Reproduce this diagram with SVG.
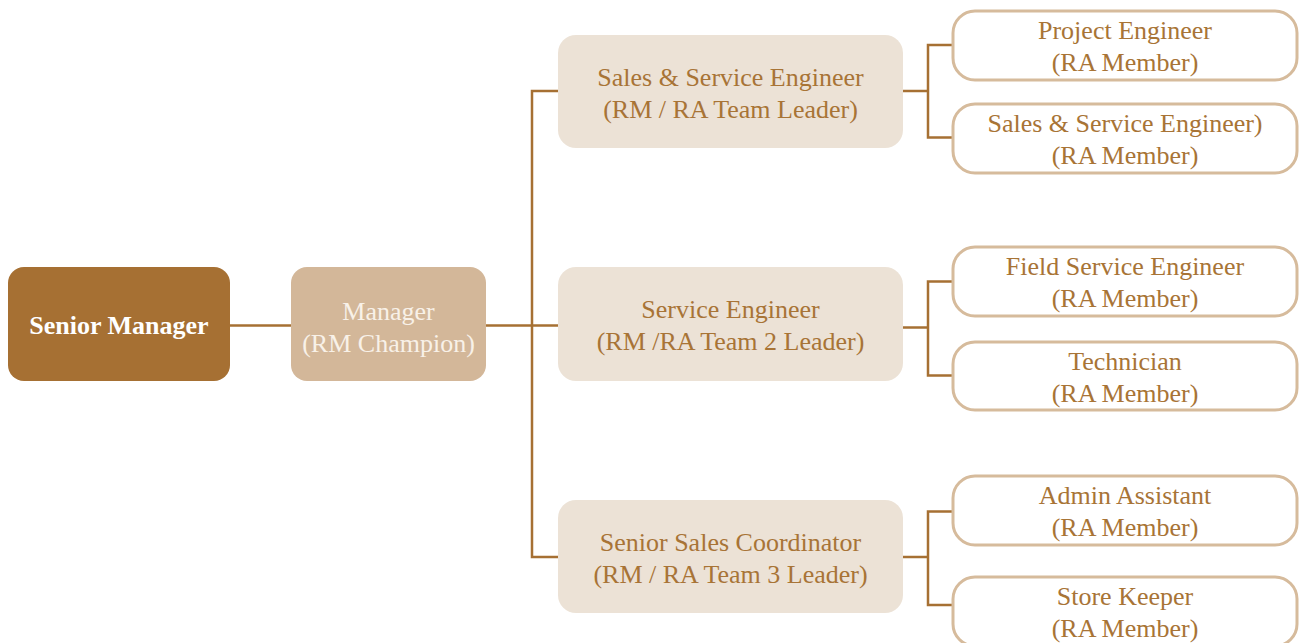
<svg xmlns="http://www.w3.org/2000/svg" width="1300" height="643" viewBox="0 0 1300 643">
<style>
  text { font-family: "Liberation Serif", "Times New Roman", serif; font-size: 26px; text-anchor: middle; fill: #a87436; }
  .top { fill: #a67033; }
  .mgr { fill: #d3b799; }
  .lead { fill: #ece2d6; }
  .mem { fill: #ffffff; stroke: #d6bb9c; stroke-width: 3; }
  .white { fill: #ffffff; }
  .cream { fill: #f8f1e8; }
  .bold { font-weight: bold; }
  #connectors path { fill: none; stroke: #a67033; stroke-width: 2.5; }
</style>
<rect width="1300" height="643" fill="#ffffff"/>
<g id="connectors">
  <path d="M230 325.5 H291"/>
  <path d="M486 325.5 H532"/>
  <path d="M558 91 H532 V557 H558"/>
  <path d="M532 325.5 H558"/>
  <path d="M903 91 H928"/>
  <path d="M952 45 H928 V137.5 H952"/>
  <path d="M903 327.5 H928"/>
  <path d="M952 281.5 H928 V375.5 H952"/>
  <path d="M903 557 H928"/>
  <path d="M952 511.5 H928 V605 H952"/>
</g>
<g id="senior-manager">
  <rect class="top" x="8" y="267" width="222" height="114" rx="16"/>
  <text class="white bold" x="119" y="334">Senior Manager</text>
</g>
<g id="manager">
  <rect class="mgr" x="291" y="267" width="195" height="114" rx="16"/>
  <text class="cream" x="388.5" y="320">Manager</text>
  <text class="cream" x="388.5" y="352">(RM Champion)</text>
</g>
<g id="leader-1">
  <rect class="lead" x="558" y="35" width="345" height="113" rx="18"/>
  <text x="730.5" y="86">Sales &amp; Service Engineer</text>
  <text x="730.5" y="118">(RM / RA Team Leader)</text>
</g>
<g id="leader-2">
  <rect class="lead" x="558" y="267" width="345" height="114" rx="18"/>
  <text x="730.5" y="318">Service Engineer</text>
  <text x="730.5" y="350">(RM /RA Team 2 Leader)</text>
</g>
<g id="leader-3">
  <rect class="lead" x="558" y="500" width="345" height="113" rx="18"/>
  <text x="730.5" y="551">Senior Sales Coordinator</text>
  <text x="730.5" y="583">(RM / RA Team 3 Leader)</text>
</g>
<g id="member-1">
  <rect class="mem" x="953" y="11" width="344" height="69" rx="22"/>
  <text x="1125" y="39">Project Engineer</text>
  <text x="1125" y="71">(RA Member)</text>
</g>
<g id="member-2">
  <rect class="mem" x="953" y="104" width="344" height="69" rx="22"/>
  <text x="1125" y="132">Sales &amp; Service Engineer)</text>
  <text x="1125" y="164">(RA Member)</text>
</g>
<g id="member-3">
  <rect class="mem" x="953" y="247" width="344" height="69" rx="22"/>
  <text x="1125" y="275">Field Service Engineer</text>
  <text x="1125" y="307">(RA Member)</text>
</g>
<g id="member-4">
  <rect class="mem" x="953" y="342" width="344" height="68" rx="22"/>
  <text x="1125" y="370">Technician</text>
  <text x="1125" y="402">(RA Member)</text>
</g>
<g id="member-5">
  <rect class="mem" x="953" y="476" width="344" height="69" rx="22"/>
  <text x="1125" y="504">Admin Assistant</text>
  <text x="1125" y="536">(RA Member)</text>
</g>
<g id="member-6">
  <rect class="mem" x="953" y="577" width="344" height="69" rx="22"/>
  <text x="1125" y="605">Store Keeper</text>
  <text x="1125" y="637">(RA Member)</text>
</g>
</svg>
